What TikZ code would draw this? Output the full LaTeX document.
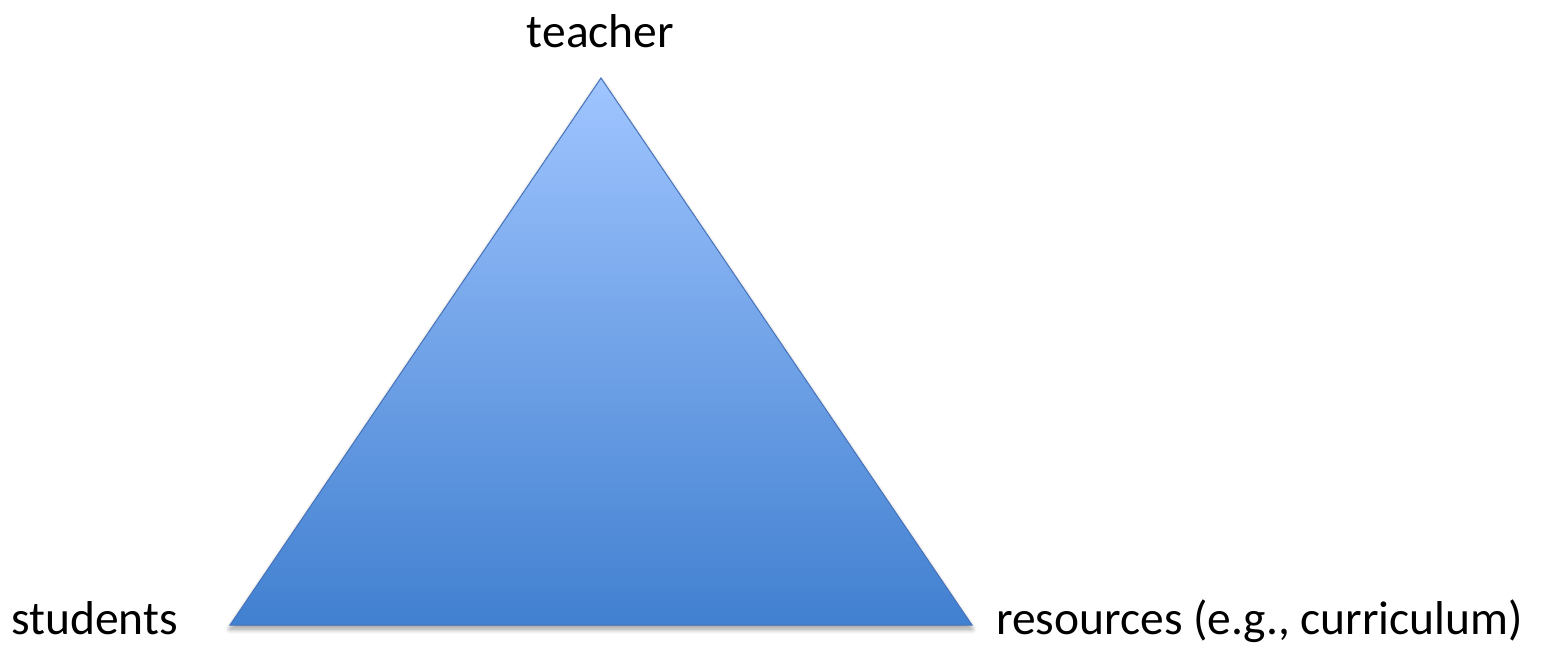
\documentclass[tikz,border=0pt]{standalone}
\usepackage{fontspec}
\setmainfont{Carlito}
\usetikzlibrary{shadows.blur,positioning}

\definecolor{apextop}{RGB}{160,197,255}
\definecolor{basebot}{RGB}{65,128,208}
\definecolor{edgeblue}{RGB}{70,115,185}

\begin{document}
\begin{tikzpicture}[x=1pt,y=-1pt,
        label/.style={font=\fontsize{47.5}{57}\selectfont, inner sep=0pt, anchor=base},
        wedge/.style={draw=edgeblue, line width=1pt, top color=apextop, bottom color=basebot,
        blur shadow={shadow xshift=0pt, shadow yshift=-4pt, shadow opacity=40, shadow blur radius=5pt, shadow blur steps=8}}]
    \useasboundingbox (0,0) rectangle (1545,645);
    % corners of the triangle
    \coordinate (apex) at (601,78);
    \coordinate (left) at (230,625);
    \coordinate (right) at (972,625);
    \path[wedge] (apex) -- (right) -- (left) -- cycle;
    % labels
    \node [label] (teacher) at (600.5,47) {teacher};
    \node [label, anchor=base west] (students) at (11,634) {students};
    \node [label, anchor=base west] (resources) at (996,634) {resources (e.g., curriculum)};
\end{tikzpicture}
\end{document}
